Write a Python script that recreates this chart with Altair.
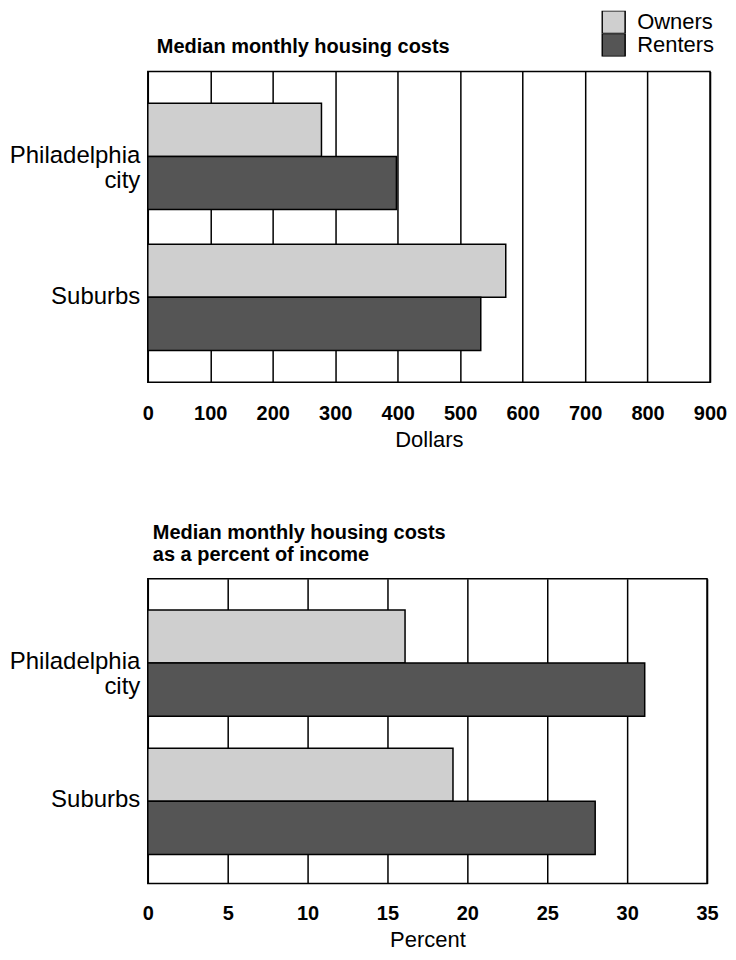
import altair as alt
import pandas as pd

places = ["Philadelphia city", "Suburbs"]
tenure = ["Owners", "Renters"]
dollars_owners = [278, 573]
dollars_renters = [398, 533]
pct_owners = [16.1, 19.1]
pct_renters = [31.1, 28.0]
dollar_ticks = [0, 100, 200, 300, 400, 500, 600, 700, 800, 900]
pct_ticks = [0, 5, 10, 15, 20, 25, 30, 35]

rows = []
for i, p in enumerate(places):
    rows.append({"place": p, "tenure": "Owners", "dollars": dollars_owners[i], "pct": pct_owners[i]})
    rows.append({"place": p, "tenure": "Renters", "dollars": dollars_renters[i], "pct": pct_renters[i]})
df = pd.DataFrame(rows)

FONT = "Liberation Sans"
COLORS = ["#cfcfcf", "#555555"]


def yenc():
    return alt.Y(
        "place:N", sort=places, title=None,
        scale=alt.Scale(paddingInner=0.246, paddingOuter=0.225),
        axis=alt.Axis(
            labelExpr="datum.label == 'Philadelphia city' ? ['Philadelphia', 'city'] : datum.label",
            ticks=False, domain=False, labelFontSize=24, labelPadding=8,
            labelLineHeight=25, labelColor="black", labelFont=FONT,
        ),
    )


def xaxis(title, values, lp, tp):
    return alt.Axis(
        values=values, grid=True, gridColor="black", gridWidth=1.5, gridOpacity=1,
        ticks=False, domain=False, labelFlush=False, labelFontSize=20,
        labelFontWeight="bold", labelPadding=lp, labelColor="black", labelFont=FONT,
        title=title, titleFontSize=22, titleFontWeight="normal",
        titleColor="black", titleFont=FONT, titlePadding=tp,
    )


def legend():
    return alt.Legend(
        title=None, orient="none", legendX=454, legendY=-61, padding=0,
        symbolType="square", symbolSize=529, symbolStrokeColor="black",
        symbolStrokeWidth=1.5, symbolOpacity=1, labelFontSize=22, labelColor="black",
        labelFont=FONT, rowPadding=0, labelOffset=11, clipHeight=23,
    )


color_scale = alt.Scale(domain=tenure, range=COLORS)
yoff = alt.YOffset("tenure:N", sort=tenure, scale=alt.Scale(paddingInner=0, paddingOuter=0))

top = alt.Chart(df).mark_bar(stroke="black", strokeWidth=1.5).encode(
    x=alt.X("dollars:Q", scale=alt.Scale(domain=[0, 900], nice=False),
            axis=xaxis("Dollars", dollar_ticks, 21, 6)),
    y=yenc(),
    yOffset=yoff,
    color=alt.Color("tenure:N", scale=color_scale, legend=legend()),
).properties(
    width=563, height=311,
    title=alt.TitleParams("Median monthly housing costs", anchor="start", frame="group",
                          fontSize=20, fontWeight="bold", font=FONT, color="black",
                          dx=9, offset=15),
)

bottom = alt.Chart(df).mark_bar(stroke="black", strokeWidth=1.5).encode(
    x=alt.X("pct:Q", scale=alt.Scale(domain=[0, 35], nice=False),
            axis=xaxis("Percent", pct_ticks, 20, 6)),
    y=yenc(),
    yOffset=yoff,
    color=alt.Color("tenure:N", scale=color_scale, legend=legend()),
).properties(
    width=560, height=305,
    title=alt.TitleParams(["Median monthly housing costs", "as a percent of income"],
                          anchor="start", frame="group", fontSize=20, fontWeight="bold",
                          font=FONT, color="black", dx=5, offset=14, lineHeight=22),
)

chart = alt.vconcat(top, bottom, spacing=71).properties(
    padding={"top": 2, "left": 0, "right": 0, "bottom": 0},
    background="white",
).configure_view(stroke="black", strokeWidth=1.5)

chart.save("out.html", embed_options={"renderer": "svg", "actions": False})
